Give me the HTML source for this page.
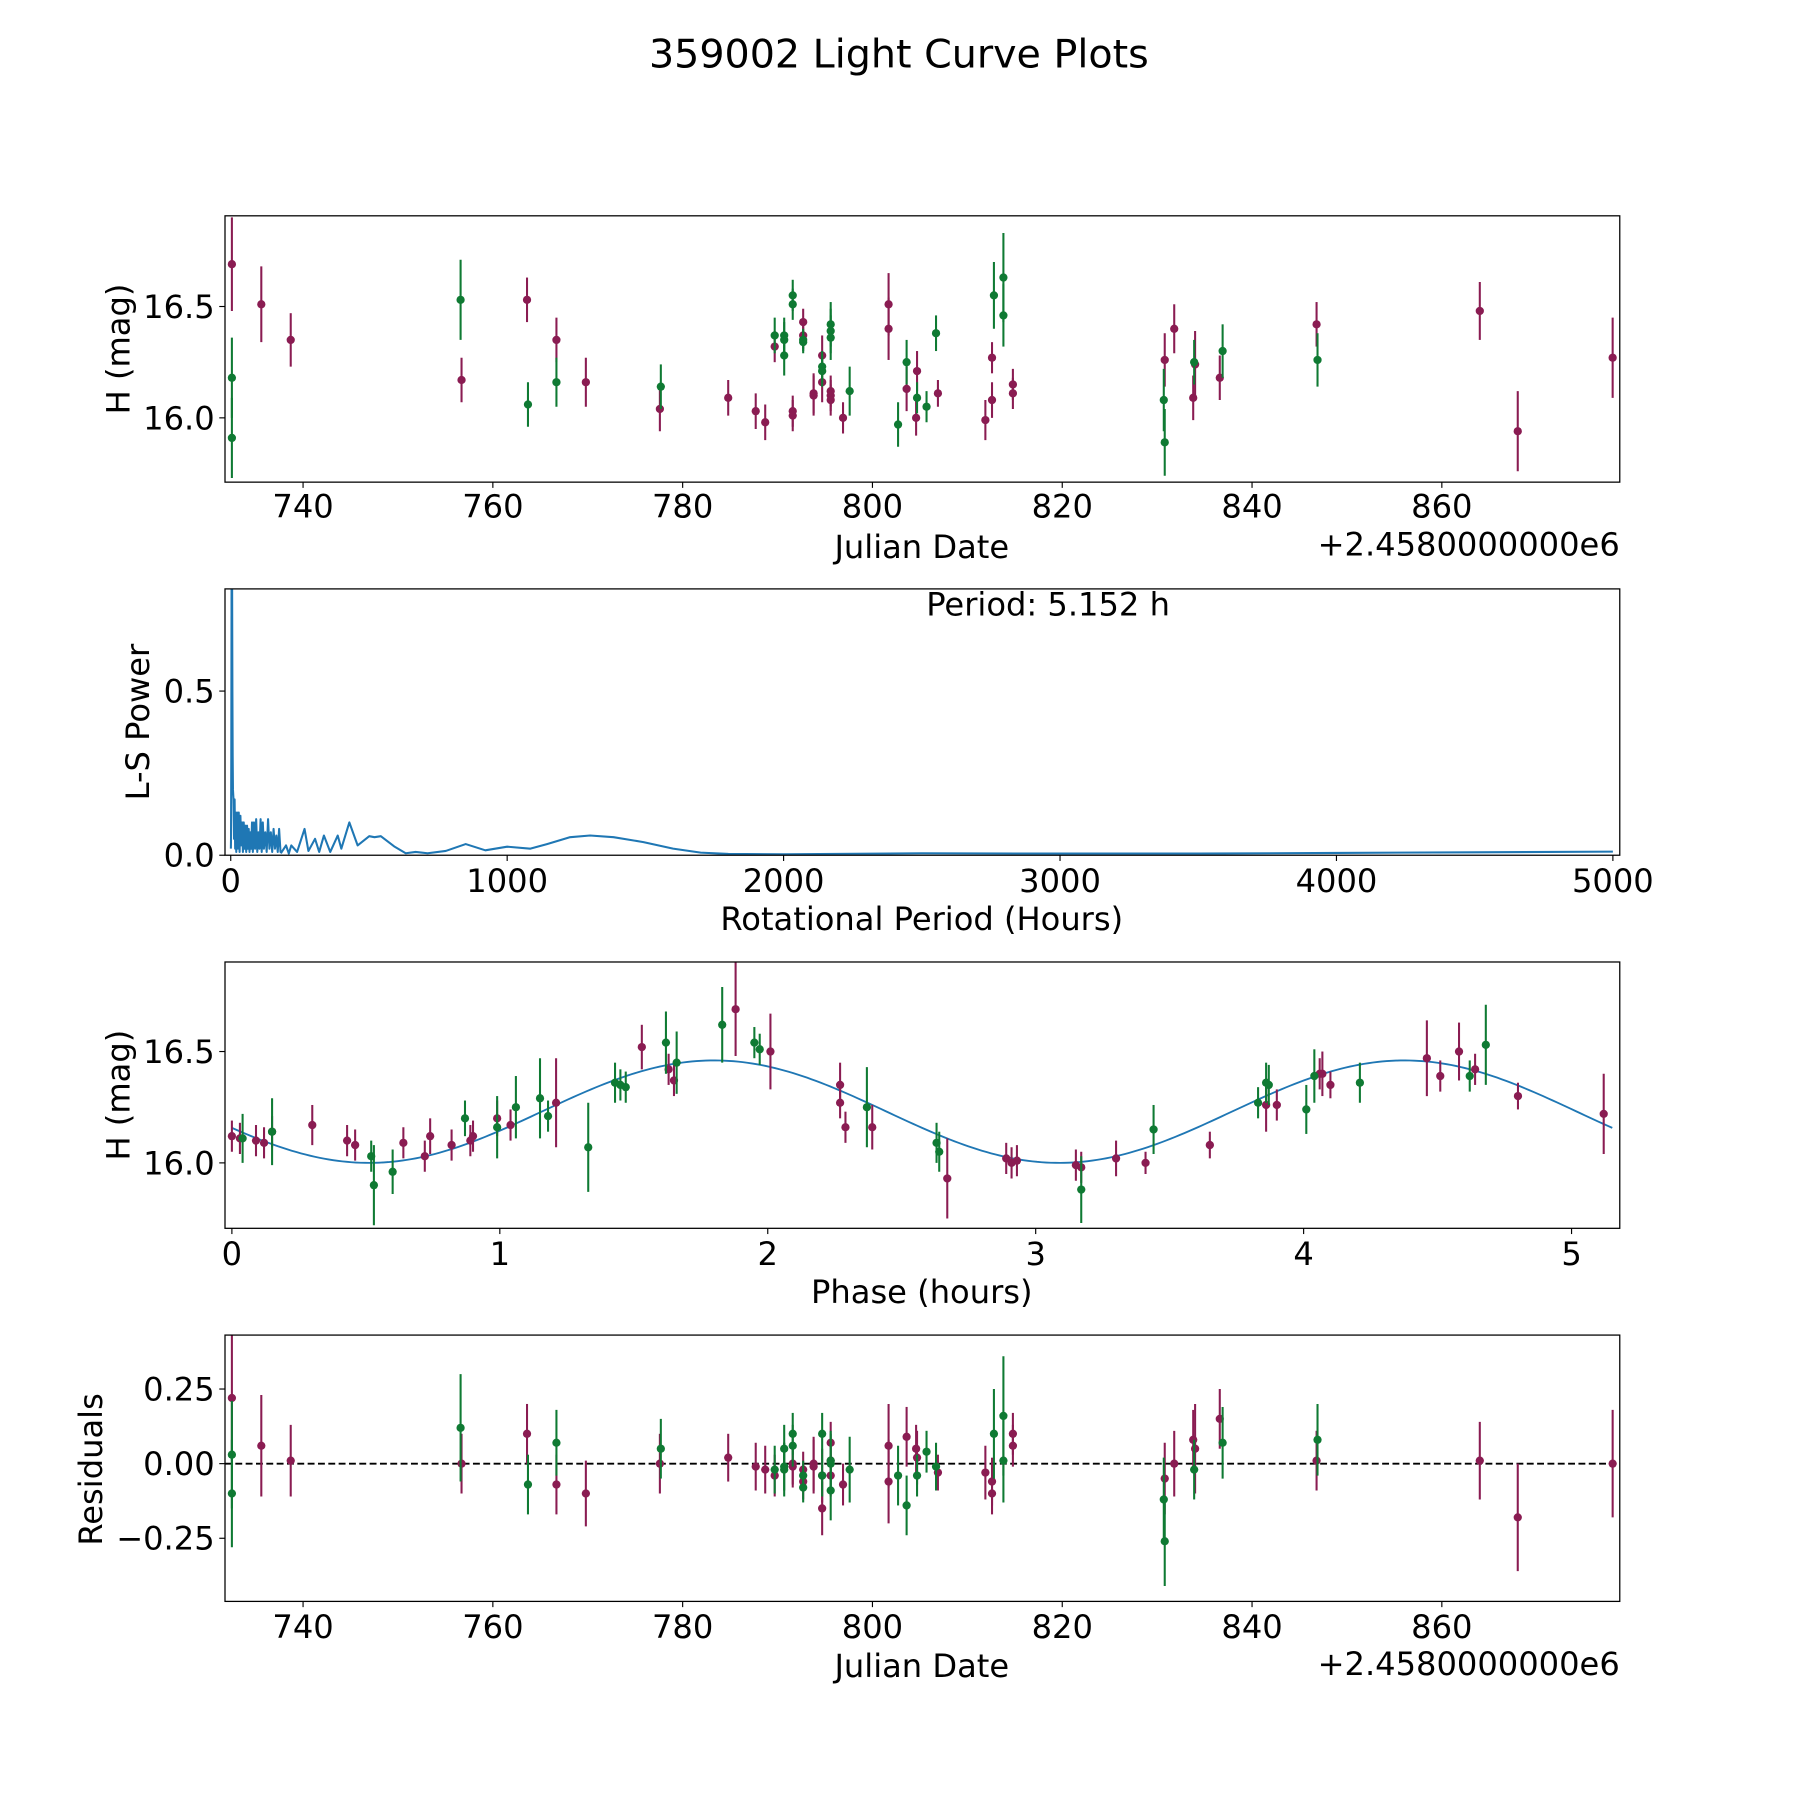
<!DOCTYPE html>
<html><head><meta charset="utf-8"><style>
html,body{margin:0;padding:0;background:#fff;}
svg{display:block;font-family:"DejaVu Sans","Liberation Sans",sans-serif;}
</style></head><body>
<svg id="fig" width="1800" height="1800" viewBox="0 0 1568 1568" xmlns="http://www.w3.org/2000/svg">
<rect x="0" y="0" width="1568" height="1568" fill="#fff"/>
<text x="783" y="59" font-size="34.5" text-anchor="middle">359002 Light Curve Plots</text>
</svg>
<script>
// ---- Panel 1 / 4 data (Julian date offset, magnitude, error, residual) ----
const jdM = [732.5,735.6,738.7,756.7,763.6,766.7,769.8,777.6,784.8,787.7,788.7,789.7,791.6,791.6,792.7,792.7,793.8,793.8,794.7,794.7,795.6,795.6,795.6,796.9,801.7,801.7,803.6,804.6,804.7,806.9,811.9,812.6,812.6,814.8,814.8,830.8,831.8,833.8,834.0,836.6,846.8,864.0,868.0,878.0];
const magM = [16.69,16.51,16.35,16.17,16.53,16.35,16.16,16.04,16.09,16.03,15.98,16.32,16.03,16.01,16.43,16.37,16.11,16.10,16.28,16.16,16.12,16.10,16.08,16.00,16.51,16.40,16.13,16.00,16.21,16.11,15.99,16.08,16.27,16.11,16.15,16.26,16.40,16.09,16.24,16.18,16.42,16.48,15.94,16.27];
const errM = [0.21,0.17,0.12,0.10,0.10,0.10,0.11,0.10,0.08,0.08,0.08,0.07,0.07,0.07,0.06,0.06,0.09,0.09,0.09,0.09,0.07,0.07,0.07,0.07,0.14,0.14,0.10,0.08,0.09,0.06,0.09,0.08,0.07,0.07,0.07,0.12,0.11,0.10,0.15,0.10,0.10,0.13,0.18,0.18];
const resM = [0.22,0.06,0.01,0.0,0.10,-0.07,-0.10,0.0,0.02,-0.01,-0.02,-0.04,0.0,-0.01,-0.06,-0.02,0.0,-0.01,-0.15,-0.04,0.07,0.01,-0.04,-0.07,0.06,-0.06,0.09,0.05,0.02,-0.03,-0.03,-0.06,-0.10,0.10,0.06,-0.05,0.0,0.08,0.05,0.15,0.01,0.01,-0.18,0.0];
const jdG = [732.5,732.5,756.6,763.7,766.7,777.7,789.7,790.7,790.7,790.7,791.6,791.6,792.7,792.7,794.7,794.7,795.6,795.6,795.6,797.6,802.7,803.6,804.7,805.7,806.7,812.8,813.8,813.8,830.7,830.8,833.9,836.9,846.9];
const magG = [16.18,15.91,16.53,16.06,16.16,16.14,16.37,16.37,16.35,16.28,16.55,16.51,16.35,16.34,16.23,16.21,16.42,16.39,16.36,16.12,15.97,16.25,16.09,16.05,16.38,16.55,16.63,16.46,16.08,15.89,16.25,16.30,16.26];
const errG = [0.18,0.18,0.18,0.10,0.11,0.10,0.08,0.08,0.08,0.09,0.07,0.07,0.05,0.05,0.07,0.07,0.10,0.10,0.10,0.11,0.10,0.10,0.07,0.07,0.08,0.15,0.20,0.14,0.14,0.15,0.10,0.12,0.12];
const resG = [0.03,-0.10,0.12,-0.07,0.07,0.05,-0.02,-0.01,0.05,-0.02,0.10,0.06,-0.08,-0.04,0.10,-0.04,-0.09,0.0,0.01,-0.02,-0.04,-0.14,-0.04,0.04,-0.01,0.10,0.16,0.01,-0.12,-0.26,-0.02,0.07,0.08];
// ---- Phase-folded data ----
const phM = [0,0.03,0.09,0.12,0.15,0.30,0.43,0.46,0.64,0.72,0.74,0.82,0.89,0.90,0.99,1.04,1.21,1.53,1.63,1.65,1.88,2.01,2.27,2.27,2.29,2.39,2.67,2.89,2.91,2.93,3.15,3.17,3.30,3.41,3.65,3.86,3.90,4.06,4.07,4.10,4.46,4.51,4.58,4.64,4.80,5.12];
const phMagM = [16.12,16.11,16.10,16.09,16.14,16.17,16.10,16.08,16.09,16.03,16.12,16.08,16.10,16.12,16.20,16.17,16.27,16.52,16.42,16.37,16.69,16.50,16.35,16.27,16.16,16.16,15.93,16.02,16.0,16.01,15.99,15.98,16.02,16.0,16.08,16.26,16.26,16.40,16.40,16.35,16.47,16.39,16.50,16.42,16.30,16.22];
const phErrM = [0.07,0.07,0.07,0.07,0.07,0.09,0.07,0.07,0.07,0.07,0.08,0.07,0.07,0.07,0.08,0.07,0.20,0.10,0.07,0.07,0.21,0.17,0.10,0.07,0.07,0.10,0.18,0.07,0.07,0.07,0.07,0.07,0.08,0.05,0.06,0.12,0.07,0.07,0.10,0.06,0.17,0.07,0.13,0.07,0.06,0.18];
const phG = [0.04,0.15,0.52,0.53,0.60,0.87,0.99,1.06,1.15,1.18,1.33,1.43,1.45,1.47,1.62,1.66,1.83,1.95,1.97,2.37,2.63,2.64,3.17,3.44,3.83,3.86,3.87,4.01,4.04,4.21,4.62,4.68];
const phMagG = [16.11,16.14,16.03,15.90,15.96,16.20,16.16,16.25,16.29,16.21,16.07,16.36,16.35,16.34,16.54,16.45,16.62,16.54,16.51,16.25,16.09,16.05,15.88,16.15,16.27,16.36,16.35,16.24,16.39,16.36,16.39,16.53];
const phErrG = [0.11,0.15,0.07,0.18,0.10,0.08,0.14,0.14,0.18,0.07,0.20,0.09,0.07,0.07,0.14,0.14,0.17,0.07,0.07,0.18,0.09,0.09,0.15,0.11,0.07,0.09,0.09,0.11,0.12,0.09,0.07,0.18];
// fit model parameters: mean, amplitude, peak phase, rotational period (h)
const fitParams = [16.23, 0.23, 1.80, 5.152];
// ---- Periodogram ----
const lsPeriod = [0.5,1,2,3,4,5,6,7,8,10,12,14,16,18,20,23,26,29,32,35,38,41,44,47,50,53,56,59,62,65,68,71,74,77,80,84,88,92,96,100,104,108,112,116,120,125,130,135,140,145,150,155,160,165,170,175,180,183,200,210,219,240,267,281,305,320,337,360,387,400,429,459,501,520,543,591,633,669,712,778,850,921,1000,1084,1144,1228,1300,1385,1493,1600,1700,1800,2000,2500,3000,3500,4000,4500,5000];
const lsPower = [0.02,0.05,0.3,0.82,0.9,0.82,0.5,0.3,0.2,0.17,0.05,0.17,0.02,0.13,0.01,0.13,0.02,0.13,0.01,0.12,0.03,0.10,0.01,0.10,0.02,0.09,0.01,0.09,0.02,0.08,0.01,0.07,0.02,0.10,0.01,0.10,0.02,0.11,0.01,0.07,0.02,0.11,0.01,0.10,0.02,0.07,0.01,0.11,0.02,0.07,0.01,0.08,0.02,0.06,0.01,0.08,0.01,0.008,0.03,0.005,0.03,0.01,0.08,0.013,0.05,0.01,0.06,0.01,0.06,0.02,0.10,0.03,0.058,0.055,0.058,0.027,0.006,0.01,0.006,0.013,0.034,0.015,0.026,0.02,0.034,0.055,0.06,0.055,0.04,0.02,0.008,0.004,0.003,0.006,0.005,0.005,0.007,0.009,0.011];

const NS = 'http://www.w3.org/2000/svg';
const svg = document.getElementById('fig');
const MAROON = '#8a1c52', GREEN = '#0f7a33', BLUE = '#1f77b4';
const FS = 28;
function mk(tag, attrs, parent){ const e=document.createElementNS(NS,tag); for(const k in attrs) e.setAttribute(k,attrs[k]); (parent||svg).appendChild(e); return e; }
function scale(d0,d1,p0,p1){ return v => p0 + (v-d0)*(p1-p0)/(d1-d0); }

const L=196, R=1411;
const jdX = scale(740,860,264,1256);
function panelFrame(name, top, bot){
  const g = mk('g',{});
  
  
  const cp = mk('clipPath',{id:'clip-'+name}, g);
  mk('rect',{x:L,y:top,width:R-L,height:bot-top}, cp);
  return g;
}
function frame(g, top, bot){
  const r = mk('rect',{x:L,y:top,width:R-L,height:bot-top,fill:'none',stroke:'#000','stroke-width':1.1}, g);
  
  
}
function xTicks(g, vals, labels, xs, bot, lblY){
  vals.forEach((v,i)=>{
    const x = xs(v);
    mk('line',{x1:x,x2:x,y1:bot,y2:bot+5,stroke:'#000','stroke-width':1}, g);
    const t = mk('text',{x:x,y:lblY,'font-size':FS,'text-anchor':'middle'}, g);
    
    
    t.textContent = labels[i];
  });
}
function yTicks(g, vals, labels, ys){
  vals.forEach((v,i)=>{
    const y = ys(v);
    mk('line',{x1:L-5,x2:L,y1:y,y2:y,stroke:'#000','stroke-width':1}, g);
    const t = mk('text',{x:L-9,y:y+10,'font-size':FS,'text-anchor':'end'}, g);
    
    
    t.textContent = labels[i];
  });
}
function label(g, txt, x, y, rot, name, anchor){
  const t = mk('text',{x:x,y:y,'font-size':FS,'text-anchor':anchor||'middle'}, g);
  if(rot) t.setAttribute('transform','rotate(-90 '+x+' '+y+')');
  
  
  t.textContent = txt;
}
function errPoints(g, xsArr, ysArr, esArr, xs, ys, color, name){
  const pg = mk('g',{'clip-path':'url(#'+g.__clip+')'}, g);
  xsArr.forEach((xv,i)=>{
    const x = xs(xv), y = ys(ysArr[i]);
    const y1 = ys(ysArr[i]-esArr[i]), y2 = ys(ysArr[i]+esArr[i]);
    const l = mk('line',{x1:x,x2:x,y1:y1,y2:y2,stroke:color,'stroke-width':1.8}, pg);
    
    
    const c = mk('circle',{cx:x,cy:y,r:3.6,fill:color}, pg);
    
    
  });
}

// ---------- Panel 1 ----------
(function(){
  const top=188, bot=420;
  const g = panelFrame('light-curve-panel', top, bot); g.__clip='clip-light-curve-panel';
  const ys = scale(16,16.5,364,267);
  errPoints(g, jdM, magM, errM, jdX, ys, MAROON, 'maroon-obs');
  errPoints(g, jdG, magG, errG, jdX, ys, GREEN, 'green-obs');
  frame(g, top, bot);
  xTicks(g,[740,760,780,800,820,840,860],['740','760','780','800','820','840','860'],jdX,bot,451);
  yTicks(g,[16.0,16.5],['16.0','16.5'],ys);
  label(g,'Julian Date',803,486,false,'x-axis-title');
  label(g,'+2.4580000000e6',1411,484,false,'x-axis-offset','end');
  label(g,'H (mag)',113,304,true,'y-axis-title');
})();

// ---------- Panel 2 ----------
(function(){
  const top=513, bot=745;
  const g = panelFrame('periodogram-panel', top, bot);
  const xs = scale(0,5000,201,1405), ys = scale(0,0.5,745,602);
  let d='';
  lsPeriod.forEach((p,i)=>{ d += (i?'L':'M') + xs(p).toFixed(2)+' '+ys(lsPower[i]).toFixed(2); });
  const pg = mk('g',{'clip-path':'url(#clip-periodogram-panel)'}, g);
  const path = mk('path',{d:d,fill:'none',stroke:BLUE,'stroke-width':1.8,'stroke-linejoin':'round'}, pg);
  
  
  frame(g, top, bot);
  xTicks(g,[0,1000,2000,3000,4000,5000],['0','1000','2000','3000','4000','5000'],xs,bot,777);
  yTicks(g,[0,0.5],['0.0','0.5'],ys);
  label(g,'Rotational Period (Hours)',803,810,false,'x-axis-title');
  label(g,'L-S Power',130,629,true,'y-axis-title');
  label(g,'Period: 5.152 h',913,536,false,'period-annotation');
})();

// ---------- Panel 3 ----------
(function(){
  const top=838, bot=1070;
  const g = panelFrame('phase-panel', top, bot); g.__clip='clip-phase-panel';
  const xs = scale(0,5,202,1369), ys = scale(16,16.5,1013,916);
  const [mean, amp, pk, per] = fitParams;
  let d='';
  for(let i=0;i<=300;i++){
    const p = per*i/300;
    const m = mean + amp*Math.cos(4*Math.PI*(p-pk)/per);
    d += (i?'L':'M') + xs(p).toFixed(2)+' '+ys(m).toFixed(2);
  }
  const pg = mk('g',{'clip-path':'url(#clip-phase-panel)'}, g);
  const path = mk('path',{d:d,fill:'none',stroke:BLUE,'stroke-width':1.6}, pg);
  
  
  errPoints(g, phM, phMagM, phErrM, xs, ys, MAROON, 'maroon-phase');
  errPoints(g, phG, phMagG, phErrG, xs, ys, GREEN, 'green-phase');
  frame(g, top, bot);
  xTicks(g,[0,1,2,3,4,5],['0','1','2','3','4','5'],xs,bot,1102);
  yTicks(g,[16.0,16.5],['16.0','16.5'],ys);
  label(g,'Phase (hours)',803,1135,false,'x-axis-title');
  label(g,'H (mag)',113,954,true,'y-axis-title');
})();

// ---------- Panel 4 ----------
(function(){
  const top=1163, bot=1395;
  const g = panelFrame('residuals-panel', top, bot); g.__clip='clip-residuals-panel';
  const ys = scale(0,0.25,1275,1210);
  const zl = mk('line',{x1:L,x2:R,y1:ys(0),y2:ys(0),stroke:'#000','stroke-width':1.6,'stroke-dasharray':'6 3'}, g);
  
  
  errPoints(g, jdM, resM, errM, jdX, ys, MAROON, 'maroon-residual');
  errPoints(g, jdG, resG, errG, jdX, ys, GREEN, 'green-residual');
  frame(g, top, bot);
  xTicks(g,[740,760,780,800,820,840,860],['740','760','780','800','820','840','860'],jdX,bot,1427);
  yTicks(g,[0.25,0,-0.25],['0.25','0.00','\u22120.25'],ys);
  label(g,'Julian Date',803,1461,false,'x-axis-title');
  label(g,'+2.4580000000e6',1411,1459,false,'x-axis-offset','end');
  label(g,'Residuals',89,1280,true,'y-axis-title');
})();
</script>
</body></html>
